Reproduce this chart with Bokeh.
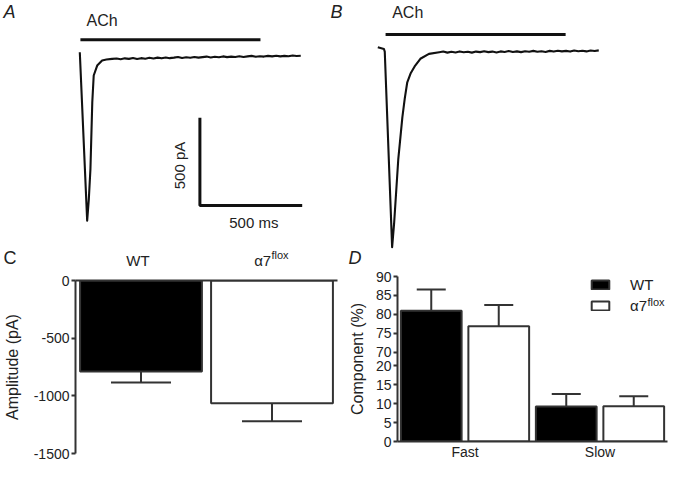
import math
from bokeh.plotting import figure
from bokeh.models import (ColumnDataSource, Range1d, LinearAxis, FixedTicker, Label,
                          Whisker, TeeHead, Legend, LegendItem)
from bokeh.layouts import column, row
from bokeh.embed import file_html
from bokeh.resources import INLINE

# ------------------------------------------------------------------ data
# Panel A: ACh-evoked current, WT (time ms, current pA)
trace_a_t = [0, 36, 44, 52, 61, 68, 85, 109, 130, 158,
             180, 200, 220, 240, 260, 280, 300, 320, 340, 360, 380, 400, 420, 440, 460,
             480, 500, 520, 540, 560, 580, 600, 620, 640, 660, 680, 700, 720, 740, 760,
             780, 800, 820, 840, 860, 880, 900, 920, 940, 960, 980, 1000, 1020, 1040,
             1060, 1080]
trace_a_i = [0, -960, -840, -665, -285, -133, -76, -47, -42, -38,
             -36, -40, -35, -38, -33, -39, -34, -37, -32, -36, -31, -35, -30, -34, -31,
             -27, -33, -29, -32, -27, -31, -28, -25, -30, -26, -29, -24, -28, -25, -27,
             -23, -27, -24, -21, -26, -23, -25, -21, -24, -20, -24, -21, -23, -19,
             -22, -20]
# Panel B: ACh-evoked current, alpha7 flox
trace_b_t = [0, 30, 34, 70, 80, 90, 100, 110, 120, 132, 144, 160, 180, 208, 250,
             300, 320, 340, 360, 380, 400, 420, 440, 460, 480, 500, 520, 540, 560, 580,
             600, 620, 640, 660, 680, 700, 720, 740, 760, 780, 800, 820, 840, 860, 880,
             900, 920, 940, 960, 980, 1000, 1020, 1040, 1060, 1080]
trace_b_i = [0, -10, -25, -1140, -1000, -820, -640, -520, -400, -290, -200, -150, -110, -66, -38,
             -29, -25, -31, -26, -30, -24, -29, -26, -31, -25, -28, -23, -28, -25, -30,
             -24, -27, -22, -27, -24, -28, -23, -26, -21, -26, -23, -27, -21, -25, -20,
             -24, -21, -25, -19, -23, -20, -24, -19, -22, -18]
# ACh application bars (ms) and their drawing level (pA)
ach_a = [3, 883]
ach_b = [38, 918]
ach_level_a = 71
ach_level_b = 72
# scale bar: 500 pA / 500 ms
scale_ms = 500
scale_pa = 500
scale_corner = [587, -874]

# Panel C: peak amplitude
amp_groups = ["WT", "α7flox"]
amp_mean = [-790, -1065]
amp_sem = [95, 155]
amp_ticks = [-1500, -1000, -500, 0]

# Panel D: fast / slow component
comp_groups = ["Fast", "Slow"]
comp_wt = [81.0, 9.2]
comp_wt_sem = [5.6, 3.3]
comp_flox = [76.9, 9.3]
comp_flox_sem = [5.6, 2.6]
comp_ticks = [0, 5, 10, 15, 20, 70, 75, 80, 85, 90]

# ------------------------------------------------------------------ style
FONT = "Liberation Sans"
INK = "#222222"
LINE = "#333333"
TRACE = "#111111"

MS_PER_PX = 500 / 102.3
PA_PER_PX = 500 / 87.7
TOP_H = 268               # height of the top row (page px)
C_TOP, C_BOT = 280, 453   # frame of panel C (page px)
D_TOP, D_BOT = 276, 443   # frame of panel D (page px)
LIFT = 0.3                # label baseline correction (fraction of font size)


def a_t(px): return (px - 79.3) * MS_PER_PX
def a_i(py): return (51.7 - py) * PA_PER_PX
def b_t(px): return (px - 377.3) * MS_PER_PX
def b_i(py): return (46.7 - py) * PA_PER_PX


def lab(p, fx, fy, px, py, text, size, style="normal", align="left", baseline="alphabetic",
        angle=0.0):
    """Place a text whose baseline sits at page pixel (px, py)."""
    s = float(size.replace("px", ""))
    if angle == 0.0:
        py = py - LIFT * s
    else:
        px = px - 3
    p.add_layout(Label(x=fx(px), y=fy(py), text=text, text_font=FONT, text_font_size=size,
                       text_font_style=style, text_color=INK, text_align=align,
                       text_baseline=baseline, angle=angle))


def bare(p):
    p.grid.visible = False
    p.outline_line_color = None
    p.background_fill_color = "white"
    p.border_fill_color = "white"


# ------------------------------------------------------------------ panel A
pa = figure(width=328, height=TOP_H, output_backend="svg", toolbar_location=None,
            x_range=Range1d(a_t(0), a_t(328)), y_range=Range1d(a_i(TOP_H), a_i(0)),
            x_axis_location=None, y_axis_location=None, min_border=0)
bare(pa)
pa.line(trace_a_t, trace_a_i, line_color=TRACE, line_width=2.1, line_join="round")
pa.line(ach_a, [ach_level_a, ach_level_a], line_color=TRACE, line_width=3)
c0, c1 = scale_corner
pa.line([c0, c0, c0 + scale_ms], [c1 + scale_pa, c1, c1], line_color=TRACE, line_width=3)
lab(pa, a_t, a_i, 3, 17, "A", "18px", style="italic")
lab(pa, a_t, a_i, 86, 25, "ACh", "16px")
lab(pa, a_t, a_i, 181.5, 165, "500 pA", "15px", align="center", baseline="middle",
    angle=math.pi / 2)
lab(pa, a_t, a_i, 253.3, 226.5, "500 ms", "15px", align="center")
# headings of panel C (drawn in the strip above it)
lab(pa, a_t, a_i, 3, 263, "C", "18px")
lab(pa, a_t, a_i, 137.5, 264, amp_groups[0], "15px", align="center")
lab(pa, a_t, a_i, 270.7, 264, "α7", "15px", align="right")
lab(pa, a_t, a_i, 271, 258, "flox", "11px")

# ------------------------------------------------------------------ panel B
pb = figure(width=340, height=TOP_H, output_backend="svg", toolbar_location=None,
            x_range=Range1d(b_t(328), b_t(668)), y_range=Range1d(b_i(TOP_H), b_i(0)),
            x_axis_location=None, y_axis_location=None, min_border=0)
bare(pb)
pb.line(trace_b_t, trace_b_i, line_color=TRACE, line_width=2.1, line_join="round")
pb.line(ach_b, [ach_level_b, ach_level_b], line_color=TRACE, line_width=3)
lab(pb, b_t, b_i, 330, 17, "B", "18px", style="italic")
lab(pb, b_t, b_i, 391.7, 17, "ACh", "16px")
lab(pb, b_t, b_i, 348, 263, "D", "18px", style="italic")


def style_axis(ax, size):
    ax.axis_line_color = LINE
    ax.axis_line_width = 2
    ax.major_tick_line_color = LINE
    ax.major_tick_line_width = 2
    ax.major_tick_out = 4
    ax.major_tick_in = 0
    ax.minor_tick_line_color = None
    ax.major_label_text_font = FONT
    ax.major_label_text_font_size = size
    ax.major_label_text_color = INK
    ax.major_label_standoff = 2
    ax.axis_label_text_font = FONT
    ax.axis_label_text_font_style = "normal"
    ax.axis_label_text_color = INK


BOT_H = 462 - TOP_H

# ------------------------------------------------------------------ panel C
pc = figure(width=338, height=BOT_H, output_backend="svg", toolbar_location=None,
            x_range=Range1d(0, len(amp_groups)), y_range=Range1d(amp_ticks[0], 0),
            x_axis_location=None, y_axis_location="left",
            min_border_left=71, min_border_right=1, min_border_top=C_TOP - TOP_H,
            min_border_bottom=462 - C_BOT)
bare(pc)
xc = [i + 0.5 for i in range(len(amp_groups))]
src_c = ColumnDataSource(dict(x=xc, mean=amp_mean,
                              low=[m - s for m, s in zip(amp_mean, amp_sem)],
                              fill=["black", "white"]))
pc.vbar(x="x", width=0.93, top=0, bottom="mean", source=src_c, fill_color="fill",
        line_color=LINE, line_width=2)
pc.add_layout(Whisker(source=src_c, base="x", upper="mean", lower="low",
                      upper_head=None, lower_head=TeeHead(size=60, line_color=LINE, line_width=2),
                      line_color=LINE, line_width=2))
yax = pc.yaxis[0]
yax.ticker = FixedTicker(ticks=amp_ticks)
yax.major_label_overrides = {t: str(t) for t in amp_ticks}
style_axis(yax, "14px")
yax.axis_label = "Amplitude (pA)"
yax.axis_label_text_font_size = "16px"
yax.axis_label_standoff = 10
top_ax = LinearAxis(ticker=FixedTicker(ticks=[]), axis_line_color=LINE, axis_line_width=2,
                    major_tick_line_color=None, minor_tick_line_color=None,
                    major_tick_out=0, major_label_standoff=0)
pc.add_layout(top_ax, "above")

# ------------------------------------------------------------------ panel D
GAP = 3.5


def brk(v):
    return v if v <= 20 else v - 70 + 20 + GAP


D_PX = (D_BOT - D_TOP) / brk(comp_ticks[-1])


def d_x(px): return (px - 397) / 67.5
def d_y(py): return (D_BOT - py) / D_PX


pd = figure(width=330, height=BOT_H, output_backend="svg", toolbar_location=None,
            x_range=Range1d(0, 2 * len(comp_groups)), y_range=Range1d(0, brk(comp_ticks[-1])),
            min_border_left=59, min_border_right=1, min_border_top=D_TOP - TOP_H,
            min_border_bottom=462 - D_BOT)
bare(pd)
x_wt = [2 * i + 0.5 for i in range(len(comp_groups))]
x_fl = [2 * i + 1.5 for i in range(len(comp_groups))]
src_wt = ColumnDataSource(dict(x=x_wt, top=[brk(v) for v in comp_wt],
                               up=[brk(v + s) for v, s in zip(comp_wt, comp_wt_sem)]))
src_fl = ColumnDataSource(dict(x=x_fl, top=[brk(v) for v in comp_flox],
                               up=[brk(v + s) for v, s in zip(comp_flox, comp_flox_sem)]))
r_wt = pd.vbar(x="x", width=0.9, top="top", bottom=0, source=src_wt, fill_color="black",
               line_color=LINE, line_width=2)
r_fl = pd.vbar(x="x", width=0.9, top="top", bottom=0, source=src_fl, fill_color="white",
               line_color=LINE, line_width=2)
for s in (src_wt, src_fl):
    pd.add_layout(Whisker(source=s, base="x", lower="top", upper="up", lower_head=None,
                          upper_head=TeeHead(size=29, line_color=LINE, line_width=2),
                          line_color=LINE, line_width=2))
ydax = pd.yaxis[0]
ydax.ticker = FixedTicker(ticks=[float(brk(t)) for t in comp_ticks])
ydax.major_label_overrides = {float(brk(t)): str(t) for t in comp_ticks}
style_axis(ydax, "14px")
ydax.axis_label = "Component (%)"
ydax.axis_label_text_font_size = "16px"
ydax.axis_label_standoff = 7
xdax = pd.xaxis[0]
xdax.ticker = FixedTicker(ticks=[2.0 * i + 1 for i in range(len(comp_groups))])
xdax.major_label_overrides = {2.0 * i + 1: g for i, g in enumerate(comp_groups)}
style_axis(xdax, "14px")
xdax.major_tick_line_color = None
xdax.major_tick_out = 0
xdax.major_label_standoff = 2

legend = Legend(items=[LegendItem(label="WT", renderers=[r_wt]),
                       LegendItem(label="α7", renderers=[r_fl])],
                location=(192, D_BOT - 316), orientation="vertical", glyph_width=22,
                glyph_height=11, label_height=11, label_standoff=19, spacing=4, padding=0,
                margin=0, border_line_color=None, background_fill_alpha=0,
                label_text_font=FONT, label_text_font_size="15px", label_text_color=INK)
pd.add_layout(legend)
lab(pd, d_x, d_y, 647, 305, "flox", "11px")

layout = column(row(pa, pb), row(column(pc), column(pd)))
open("out.html", "w").write(file_html(layout, INLINE))
